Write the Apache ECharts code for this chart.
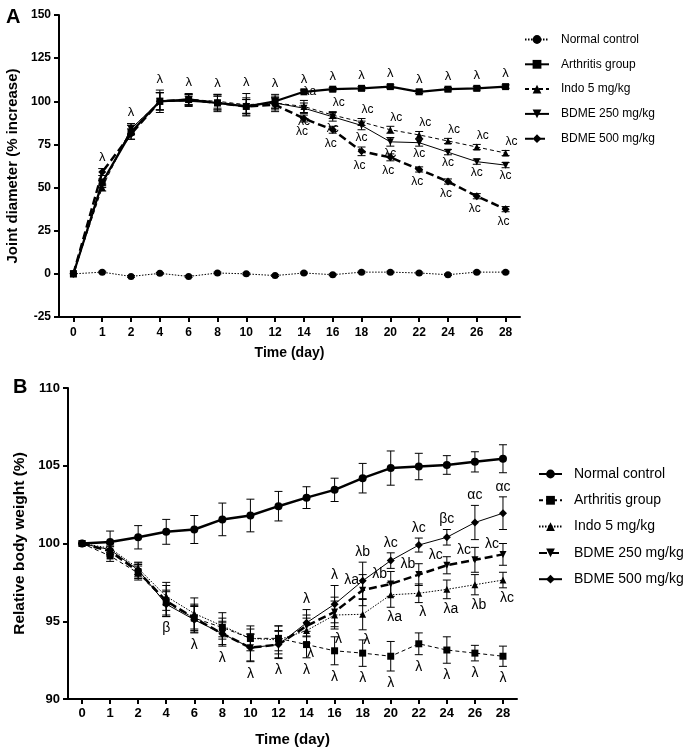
<!DOCTYPE html>
<html>
<head>
<meta charset="utf-8">
<script src="https://cdn.jsdelivr.net/npm/echarts@6/dist/echarts.min.js"></script>
<style>
html, body { margin: 0; padding: 0; background: #fff; }
#chartA { width: 685px; height: 370px; }
#chartB { width: 685px; height: 380px; }
</style>
</head>
<body>
<div id="chartA"></div>
<div id="chartB"></div>
<script>
var days = ['0', '1', '2', '4', '6', '8', '10', '12', '14', '16', '18', '20', '22', '24', '26', '28'];
var groups = ['Normal control', 'Arthritis group', 'Indo 5 mg/kg', 'BDME 250 mg/kg', 'BDME 500 mg/kg'];

// A: joint diameter (% increase)
var jointNormal = [0, 1, -1.5, 0.3, -1.5, 0.5, 0, -1, 0.5, -0.5, 1, 1, 0.5, -0.5, 1, 1];
var jointArthritis = [0, 53, 82, 100, 101, 99, 97, 100, 105.5, 107, 107.5, 108.5, 105.5, 107, 107.5, 108.5];
var jointIndo = [0, 50, 84, 100, 101, 100, 98, 99, 97, 92, 88, 83.5, 80.5, 77, 73.5, 70];
var jointBdme250 = [0, 52, 84, 100, 100, 99, 97, 99, 96, 91, 86, 76.5, 76, 70.5, 65, 63];
var jointBdme500 = [0, 59, 81, 100, 101, 99, 97, 98, 90, 83.5, 71, 67.5, 60.5, 53.5, 45, 37.5];
var jointNormalErr = [0, 0.5, 0.5, 0.5, 0.5, 0.5, 0.5, 0.5, 0.5, 0.5, 0.5, 0.5, 0.5, 0.5, 0.5, 0.5];
var jointArthritisErr = [0, 2, 4, 6.5, 3.5, 5, 5, 4, 1, 1, 1, 1, 1, 1, 1, 1];
var jointIndoErr = [0, 2, 3, 5, 3, 4, 6.5, 3, 3.5, 2, 2, 2, 2, 1.5, 1.5, 1.5];
var jointBdme250Err = [0, 2, 3, 5, 3, 4, 4, 4, 3, 2.5, 2.5, 2.5, 2, 1.5, 1.5, 1.5];
var jointBdme500Err = [0, 2, 3, 5, 3, 4, 4, 4, 2, 2, 2.5, 2, 1.5, 1.5, 1.5, 1.5];
var jointArthritisSig = ['', 'λ', 'λ', 'λ', 'λ', 'λ', 'λ', 'λ', 'λ', 'λ', 'λ', 'λ', 'λ', 'λ', 'λ', 'λ'];
var jointIndoSig = ['', '', '', '', '', '', '', '', 'λa', 'λc', 'λc', 'λc', 'λc', 'λc', 'λc', 'λc'];
var jointBdme250Sig = ['', '', '', '', '', '', '', '', 'λc', 'λc', 'λc', 'λc', 'λc', 'λc', 'λc', 'λc'];
var jointBdme500Sig = ['', '', '', '', '', '', '', '', 'λc', 'λc', 'λc', 'λc', 'λc', 'λc', 'λc', 'λc'];

// B: relative body weight (%)
var weightNormal = [100, 100.1, 100.4, 100.75, 100.9, 101.55, 101.8, 102.4, 102.95, 103.45, 104.2, 104.85, 104.95, 105.05, 105.25, 105.45];
var weightArthritis = [100, 99.2, 98.1, 96.2, 95.2, 94.6, 93.9, 93.9, 93.5, 93.1, 92.95, 92.75, 93.55, 93.15, 92.95, 92.75];
var weightIndo = [100, 99.7, 98.4, 96.6, 95.5, 94.7, 93.9, 93.8, 94.4, 95.4, 95.45, 96.7, 96.8, 97.05, 97.35, 97.65];
var weightBdme250 = [100, 99.5, 98.2, 96.3, 95.2, 94.2, 93.3, 93.5, 94.7, 95.6, 97.0, 97.4, 98.0, 98.6, 98.95, 99.3];
var weightBdme500 = [100, 99.6, 98.3, 96.1, 95.1, 94.2, 93.3, 93.5, 94.9, 96.1, 97.6, 98.9, 99.9, 100.4, 101.35, 101.95];
var weightNormalErr = [0, 0.7, 0.75, 0.8, 0.9, 1.05, 1.05, 0.95, 0.7, 0.75, 0.95, 1.1, 0.85, 0.6, 0.65, 0.9];
var weightArthritisErr = [0, 0.35, 0.45, 0.8, 0.8, 0.6, 0.6, 0.8, 0.85, 0.9, 0.85, 0.95, 0.7, 0.85, 0.5, 0.65];
var weightIndoErr = [0, 0.3, 0.4, 0.9, 1.0, 0.85, 0.8, 0.9, 0.8, 0.9, 1.0, 0.8, 0.6, 0.6, 0.65, 0.5];
var weightBdme250Err = [0, 0.3, 0.45, 1.0, 0.9, 0.8, 0.85, 0.9, 0.7, 0.95, 1.0, 0.8, 0.7, 0.55, 0.8, 0.7];
var weightBdme500Err = [0, 0.3, 0.45, 0.8, 0.85, 0.7, 0.9, 0.85, 0.85, 1.2, 1.2, 0.5, 0.45, 0.5, 1.1, 1.05];
var weightArthritisSig = ['', '', '', 'β', 'λ', 'λ', 'λ', 'λ', 'λ', 'λ', 'λ', 'λ', 'λ', 'λ', 'λ', 'λ'];
var weightIndoSig = ['', '', '', '', '', '', '', '', 'λ', 'λ', 'λ', 'λa', 'λ', 'λa', 'λb', 'λc'];
var weightBdme250Sig = ['', '', '', '', '', '', '', '', '', '', 'λa', 'λb', 'λb', 'λc', 'λc', 'λc'];
var weightBdme500Sig = ['', '', '', '', '', '', '', '', 'λ', 'λ', 'λb', 'λc', 'λc', 'βc', 'αc', 'αc'];

var FONT = 'Liberation Sans, Arial, sans-serif';

function errorBars(vals, errs) {
    return {
        type: 'custom',
        silent: true,
        z: 1,
        data: vals.map(function (v, i) { return [i, v, errs[i]]; }),
        encode: { x: 0, y: 1 },
        renderItem: function (params, api) {
            var i = api.value(0), v = api.value(1), e = api.value(2);
            if (!e) return null;
            var hi = api.coord([i, v + e]), lo = api.coord([i, v - e]);
            var w = 4;
            var st = { stroke: '#000', lineWidth: 1 };
            return {
                type: 'group',
                children: [
                    { type: 'line', shape: { x1: hi[0], y1: hi[1], x2: lo[0], y2: lo[1] }, style: st },
                    { type: 'line', shape: { x1: hi[0] - w, y1: hi[1], x2: hi[0] + w, y2: hi[1] }, style: st },
                    { type: 'line', shape: { x1: lo[0] - w, y1: lo[1], x2: lo[0] + w, y2: lo[1] }, style: st }
                ]
            };
        }
    };
}

// anchor: function(i) -> value where the mark text hangs
function sigMarks(texts, anchor, dx, dy, size) {
    return {
        type: 'custom',
        silent: true,
        z: 5,
        data: texts.map(function (t, i) { return [i, anchor(i)]; }),
        encode: { x: 0, y: 1 },
        renderItem: function (params, api) {
            var t = texts[params.dataIndex];
            if (!t) return null;
            var p = api.coord([api.value(0), api.value(1)]);
            return {
                type: 'text',
                x: p[0] + dx,
                y: p[1] + dy,
                style: {
                    text: t, fill: '#000', fontSize: size, fontFamily: FONT,
                    align: 'center', verticalAlign: 'middle',
                    textAlign: 'center', textVerticalAlign: 'middle'
                }
            };
        }
    };
}

function lineSeries(name, vals, symbol, size, width, dash, rotate) {
    return {
        name: name,
        type: 'line',
        data: vals,
        symbol: symbol,
        symbolSize: size,
        symbolRotate: rotate || 0,
        z: 3,
        itemStyle: { color: '#000' },
        lineStyle: { color: '#000', width: width, type: dash }
    };
}

function axisBase() {
    return {
        axisLine: { show: true, onZero: false, lineStyle: { color: '#000', width: 2 } },
        axisTick: { show: true, length: 5, lineStyle: { color: '#000', width: 2 } },
        axisLabel: { color: '#000', fontWeight: 'bold', fontSize: 12, fontFamily: FONT, margin: 8 },
        splitLine: { show: false },
        nameLocation: 'middle',
        nameTextStyle: { color: '#000', fontWeight: 'bold', fontSize: 14, fontFamily: FONT }
    };
}

function merge(a, b) {
    for (var k in b) a[k] = b[k];
    return a;
}

// ---- Panel A
var chartA = echarts.init(document.getElementById('chartA'));
var xA = merge(axisBase(), {
    type: 'category', data: days, boundaryGap: true, name: 'Time (day)', nameGap: 29
});
xA.axisTick.alignWithLabel = true;
xA.axisLabel.margin = 10;
var yA = merge(axisBase(), {
    type: 'value', min: -25, max: 150, interval: 25,
    name: 'Joint diameter (% increase)', nameGap: 30
});
yA.nameTextStyle.fontSize = 15;
var jointAll = [[jointIndo, jointIndoErr], [jointBdme250, jointBdme250Err], [jointBdme500, jointBdme500Err], [jointArthritis, jointArthritisErr]];
chartA.setOption({
    animation: false,
    title: { text: 'A', left: 1, top: 2, textStyle: { fontSize: 20, fontWeight: 'bold', fontFamily: FONT, color: '#000' } },
    legend: {
        orient: 'vertical', left: 524, top: 33.5, padding: 0,
        itemWidth: 24, itemHeight: 11, itemGap: 12.8,
        textStyle: { fontSize: 12, fontFamily: FONT, color: '#000', padding: [0, 0, 0, 7] },
        data: groups
    },
    grid: { left: 59, top: 15, width: 461, height: 302, outerBoundsMode: 'none' },
    xAxis: xA,
    yAxis: yA,
    series: [
        errorBars(jointNormal, jointNormalErr),
        errorBars(jointArthritis, jointArthritisErr),
        errorBars(jointIndo, jointIndoErr),
        errorBars(jointBdme250, jointBdme250Err),
        errorBars(jointBdme500, jointBdme500Err),
        lineSeries(groups[0], jointNormal, 'circle', 7, 1, [1.5, 1.5]),
        lineSeries(groups[1], jointArthritis, 'rect', 7, 2.2, 'solid'),
        lineSeries(groups[2], jointIndo, 'triangle', 7, 1, [4, 3]),
        lineSeries(groups[3], jointBdme250, 'triangle', 7, 1, 'solid', 180),
        lineSeries(groups[4], jointBdme500, 'diamond', 8, 2.5, [8, 4]),
        sigMarks(jointArthritisSig, function (i) {
            return Math.max.apply(null, jointAll.map(function (g) { return g[0][i] + g[1][i]; }));
        }, 0, -11, 13),
        sigMarks(jointIndoSig, function (i) { return jointIndo[i] + jointIndoErr[i]; }, 6, -9, 12),
        sigMarks(jointBdme250Sig, function (i) { return jointBdme250[i] - jointBdme250Err[i]; }, 0, 8, 12),
        sigMarks(jointBdme500Sig, function (i) { return jointBdme500[i] - jointBdme500Err[i]; }, -2, 10, 12)
    ]
});

// ---- Panel B
var chartB = echarts.init(document.getElementById('chartB'));
var xB = merge(axisBase(), {
    type: 'category', data: days, boundaryGap: true, name: 'Time (day)', nameGap: 33
});
xB.axisTick.alignWithLabel = true;
xB.axisLabel.fontSize = 13;
xB.nameTextStyle.fontSize = 15;
var yB = merge(axisBase(), {
    type: 'value', min: 90, max: 110, interval: 5,
    name: 'Relative body weight (%)', nameGap: 32
});
yB.axisLabel.fontSize = 13;
yB.nameTextStyle.fontSize = 15.5;
var weightTreated = [[weightArthritis, weightArthritisErr], [weightIndo, weightIndoErr], [weightBdme250, weightBdme250Err], [weightBdme500, weightBdme500Err]];
chartB.setOption({
    animation: false,
    title: { text: 'B', left: 8, top: 2, textStyle: { fontSize: 20, fontWeight: 'bold', fontFamily: FONT, color: '#000' } },
    legend: {
        orient: 'vertical', left: 538, top: 97, padding: 0,
        itemWidth: 23, itemHeight: 11, itemGap: 12.3,
        textStyle: { fontSize: 14, fontFamily: FONT, color: '#000', padding: [0, 0, 0, 7] },
        data: groups
    },
    grid: { left: 68, top: 18, width: 449, height: 311, outerBoundsMode: 'none' },
    xAxis: xB,
    yAxis: yB,
    series: [
        errorBars(weightNormal, weightNormalErr),
        errorBars(weightArthritis, weightArthritisErr),
        errorBars(weightIndo, weightIndoErr),
        errorBars(weightBdme250, weightBdme250Err),
        errorBars(weightBdme500, weightBdme500Err),
        lineSeries(groups[0], weightNormal, 'circle', 8, 2.5, 'solid'),
        lineSeries(groups[1], weightArthritis, 'rect', 7, 1, [4, 3]),
        lineSeries(groups[2], weightIndo, 'triangle', 7, 1, [1.5, 1.5]),
        lineSeries(groups[3], weightBdme250, 'triangle', 7, 2.5, [8, 4], 180),
        lineSeries(groups[4], weightBdme500, 'diamond', 8, 1, 'solid'),
        sigMarks(weightArthritisSig, function (i) {
            return Math.min.apply(null, weightTreated.map(function (g) { return g[0][i] - g[1][i]; }));
        }, 0, 12, 14),
        sigMarks(weightIndoSig, function (i) { return weightIndo[i] - weightIndoErr[i]; }, 4, 10, 14),
        sigMarks(weightBdme250Sig, function (i) { return weightBdme250[i]; }, -11, -10, 14),
        sigMarks(weightBdme500Sig, function (i) { return weightBdme500[i] + weightBdme500Err[i]; }, 0, -10, 14)
    ]
});
</script>
</body>
</html>
